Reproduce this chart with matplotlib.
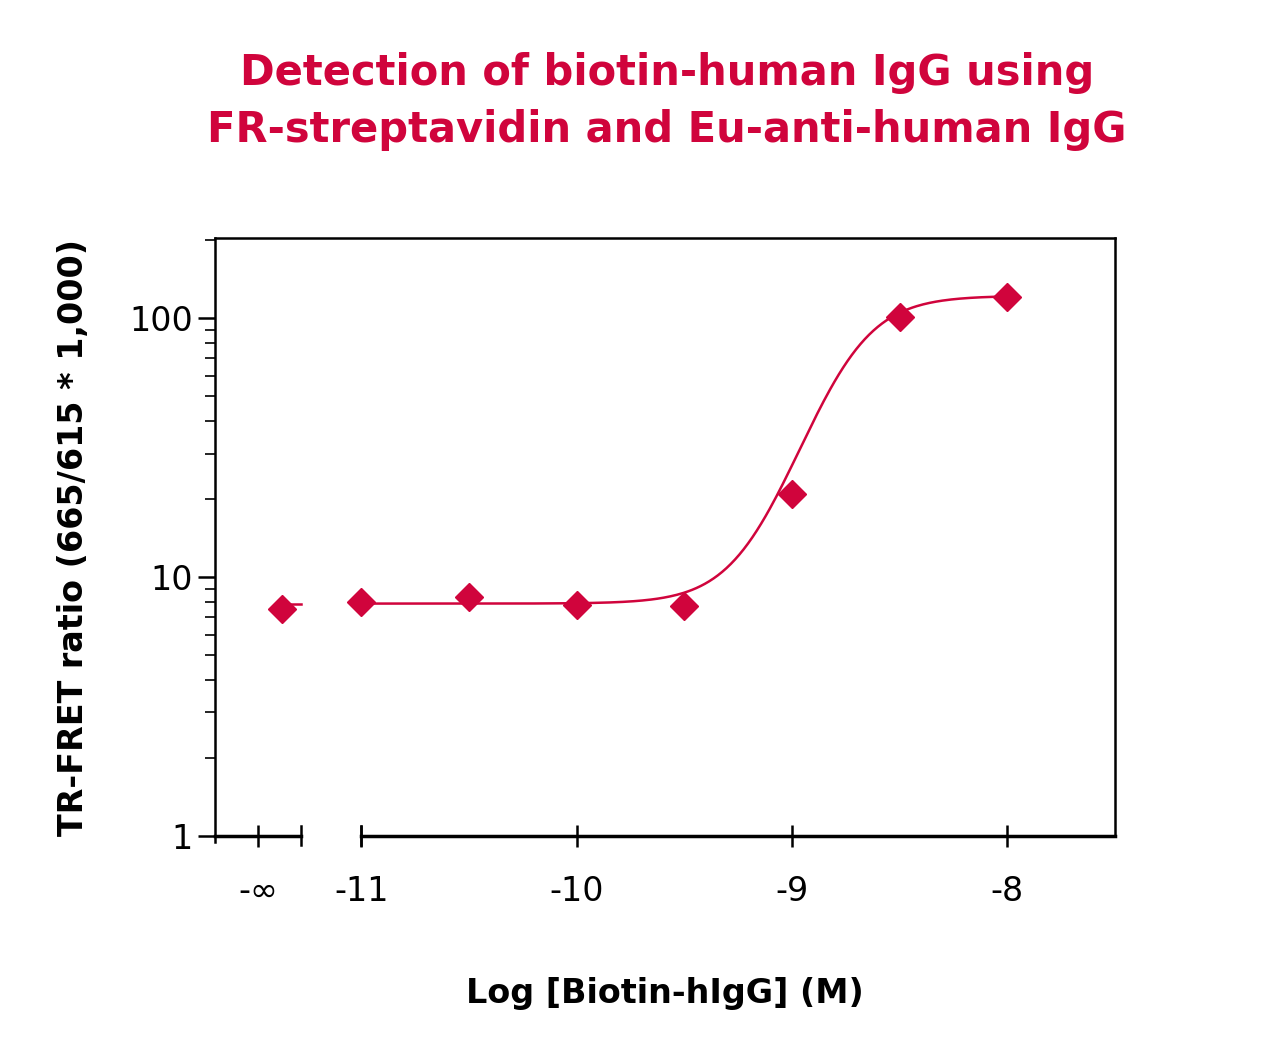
import numpy as np
import matplotlib.pyplot as plt
from matplotlib.ticker import NullFormatter

# data
log_conc = [-11.37, -11.0, -10.5, -10.0, -9.5, -9.0, -8.5, -8.0]
ratio = [7.5, 8.0, 8.4, 7.8, 7.7, 21.0, 101.0, 121.0]
x_ticks = [-11.48, -11.0, -10.0, -9.0, -8.0]
x_labels = ['-∞', '-11', '-10', '-9', '-8']
# 4PL fit parameters (bottom, top, logEC50, hill)
fit = [7.9, 122.0, -8.76, 2.9]

red = '#D0043C'
plt.rcParams['font.family'] = 'DejaVu Sans'

fig = plt.figure(figsize=(12.7, 10.54), dpi=100)
ax = fig.add_axes([215/1270, 1-836/1054, 900/1270, 598/1054])

xx = np.linspace(-11, -8, 300)
b, t, ec, h = fit
ax.plot(xx, b + (t - b) / (1 + 10 ** ((ec - xx) * h)), color=red, lw=1.8)
ax.plot([-11.37, -11.28], [b, b], color=red, lw=1.8)
ax.plot(log_conc, ratio, 'D', color=red, ms=14, ls='none')

ax.set_yscale('log')
ax.set_ylim(1, 204)
ax.set_xlim(-11.68, -7.5)
ax.set_yticks([1, 10, 100])
ax.set_yticklabels(['1', '10', '100'])
ax.yaxis.set_minor_formatter(NullFormatter())
ax.tick_params(axis='y', which='major', length=12, width=1.8, labelsize=24, pad=4)
ax.tick_params(axis='y', which='minor', length=7, width=1.2)

ax.set_xticks(x_ticks)
ax.set_xticklabels(x_labels)
ax.tick_params(axis='x', length=16, width=1.8, labelsize=24, pad=20, direction='inout')
for s in ['left', 'top', 'right']:
    ax.spines[s].set_linewidth(1.8)
ax.spines['bottom'].set_visible(False)
# broken bottom axis
ax.plot([-11.68, -11.28], [1, 1], color='black', lw=2.5, clip_on=False)
ax.plot([-11.0, -7.5], [1, 1], color='black', lw=2.5, clip_on=False)
ax.plot([-11.28, -11.28], [0.92, 1.09], color='black', lw=1.8, clip_on=False)
ax.plot([-11.0, -11.0], [0.92, 1.09], color='black', lw=1.8, clip_on=False)
ax.plot([-11.68, -11.68], [0.95, 1], color='black', lw=1.8, clip_on=False)

ax.set_xlabel('Log [Biotin-hIgG] (M)', fontsize=24, fontweight='bold', labelpad=50)
ax.set_ylabel('TR-FRET ratio (665/615 * 1,000)', fontsize=24, fontweight='bold', labelpad=28)
fig.suptitle('Detection of biotin-human IgG using\nFR-streptavidin and Eu-anti-human IgG',
             x=667/1270, y=1-52/1054, fontsize=30, fontweight='bold', color=red, linespacing=1.45)

fig.savefig('out.png', dpi=100)
